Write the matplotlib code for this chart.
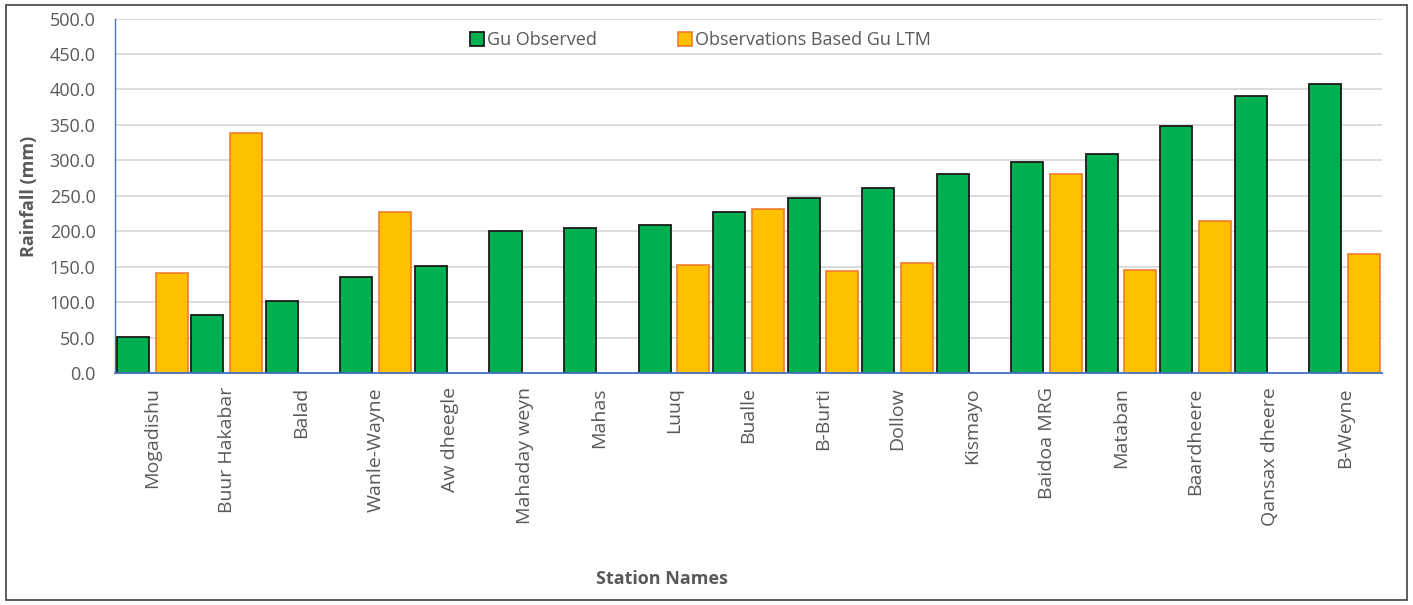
import numpy as np
import matplotlib.pyplot as plt
from matplotlib.patches import Rectangle, Patch

# Gu season rainfall per station (mm)
stations = ['Mogadishu', 'Buur Hakabar', 'Balad', 'Wanle-Wayne', 'Aw dheegle',
            'Mahaday weyn', 'Mahas', 'Luuq', 'Bualle', 'B-Burti', 'Dollow',
            'Kismayo', 'Baidoa MRG', 'Mataban', 'Baardheere', 'Qansax dheere',
            'B-Weyne']
gu_observed = [51.5, 82.0, 101.5, 135.5, 151.5, 200.0, 204.5, 209.5, 227.0,
               246.5, 261.0, 280.5, 297.5, 308.5, 349.0, 391.0, 407.5]
gu_ltm = [141.0, 338.5, 0, 227.5, 0, 0, 0, 152.0, 231.0, 144.0, 156.0,
          0, 281.5, 145.5, 215.0, 0, 167.5]

plt.rcParams['font.family'] = ['Open Sans', 'DejaVu Sans']
grey = '#595959'

fig = plt.figure(figsize=(14.13, 6.05), dpi=100)
ax = fig.add_axes([0.0814, 0.383, 0.8966, 0.5864])

x = np.arange(len(stations))
obs = np.array(gu_observed)
ltm = np.array(gu_ltm)
w = 0.43

ax.bar(x - 0.26, obs, width=w, color='#00B050', edgecolor='#1a1a1a', linewidth=1.3, zorder=3)
m = ltm > 0
ax.bar(x[m] + 0.26, ltm[m], width=w, color='#FFC000', edgecolor='#ED7D31', linewidth=1.2, zorder=3)

ax.set_xlim(-0.5, len(stations) - 0.5)
ax.set_ylim(0, 500)
ax.set_yticks(np.arange(0, 501, 50))
ax.set_yticklabels(['{:.1f}'.format(v) for v in np.arange(0, 501, 50)])
ax.set_xticks(x)
ax.set_xticklabels(stations, rotation=90)
ax.tick_params(axis='y', length=0, pad=14, labelsize=13, labelcolor=grey)
ax.tick_params(axis='x', length=0, pad=10, labelsize=14, labelcolor=grey)

ax.grid(axis='y', color='#D9D9D9', linewidth=1.3, zorder=0)
for s in ['top', 'right']:
    ax.spines[s].set_visible(False)
ax.spines['left'].set_color('#4472C4')
ax.spines['bottom'].set_color('#4472C4')
ax.spines['left'].set_linewidth(1.0)
ax.spines['bottom'].set_linewidth(1.3)
ax.spines['bottom'].set_zorder(4)

ax.set_ylabel('Rainfall (mm)', fontsize=13, fontweight='bold', color=grey)
ax.yaxis.set_label_coords(-0.061, 0.5)
ax.set_xlabel('Station Names', fontsize=13, fontweight='bold', color=grey,
              family=['Liberation Sans Narrow', 'Open Sans', 'DejaVu Sans'])
ax.xaxis.set_label_coords(0.432, -0.554)

handles = [Patch(facecolor='#00B050', edgecolor='#1a1a1a', linewidth=1.3),
           Patch(facecolor='#FFC000', edgecolor='#ED7D31', linewidth=1.2)]
leg = ax.legend(handles, ['Gu Observed', 'Observations Based Gu LTM'], ncol=2,
                loc='center', bbox_to_anchor=(0.462, 0.939), frameon=False,
                handlelength=0.8, handleheight=0.8, handletextpad=0.15,
                columnspacing=4.5, fontsize=13)
for t in leg.get_texts():
    t.set_color(grey)

# outer chart border
fig.patches.append(Rectangle((6 / 1413, 5 / 605), 1401 / 1413, 595 / 605,
                             transform=fig.transFigure, fill=False,
                             edgecolor='#404040', linewidth=1.2))

fig.savefig('out.png', dpi=100)
